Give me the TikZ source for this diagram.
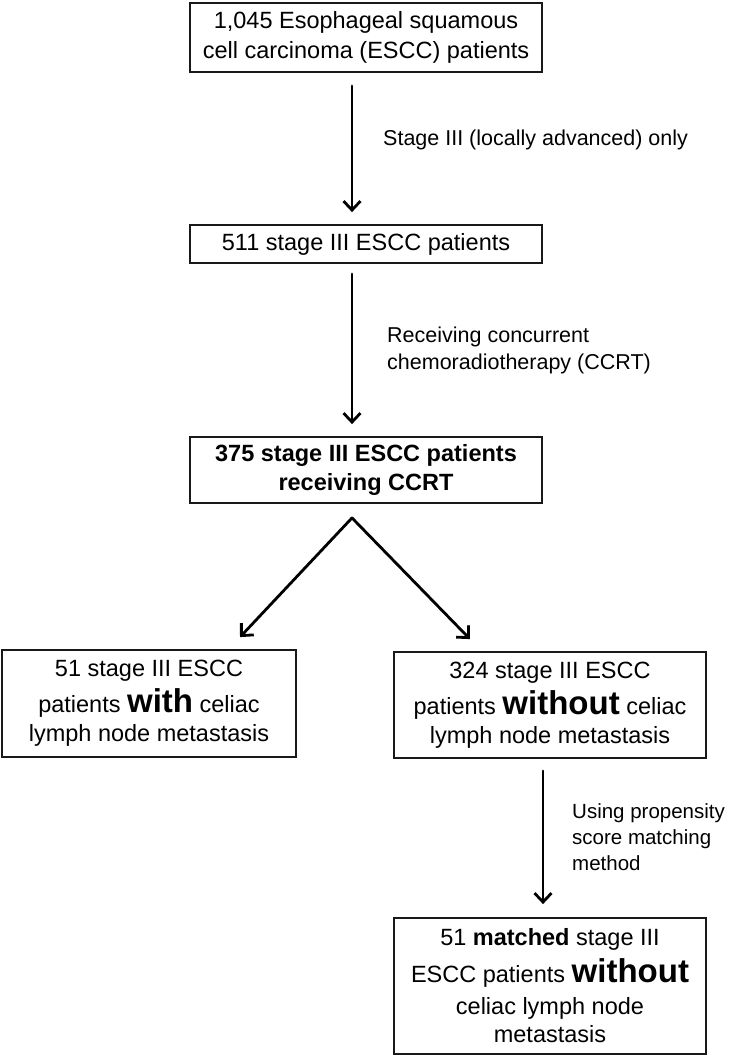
\documentclass[tikz,border=0pt]{standalone}
\usepackage{fontspec}
\setmainfont{Liberation Sans}
\usetikzlibrary{arrows.meta,calc}
\begin{document}
\begin{tikzpicture}[x=1pt,y=-1pt,
  box/.style={draw=black!90,line width=1.8pt,fill=white,align=center,inner sep=0pt,
    font=\fontsize{23.5}{29}\selectfont},
  arr/.style={line width=2.8pt,line cap=round,-{Straight Barb[length=9pt,width=17pt]}},
  lab/.style={anchor=west,align=left,inner sep=0pt}]
\useasboundingbox (0,0) rectangle (733,1056);
\newcommand{\bigb}[1]{{\fontsize{33}{33}\selectfont\bfseries #1}}
\node[box,minimum width=352pt,minimum height=69pt] (b1) at (366,37.5)
  {1,045 Esophageal squamous\\[1pt]cell carcinoma (ESCC) patients};
\node[box,minimum width=352pt,minimum height=38pt] (b2) at (366,244)
  {511 stage III ESCC patients};
\node[box,minimum width=352pt,minimum height=66pt,font=\fontsize{23.5}{29}\selectfont\bfseries] (b3) at (366,470)
  {375 stage III ESCC patients\\receiving CCRT};
\node[box,minimum width=294pt,minimum height=107pt] (b4) at (149,703.5)
  {51 stage III ESCC\\[7pt]patients \bigb{with} celiac\\[0pt]lymph node metastasis};
\node[box,minimum width=312pt,minimum height=106pt] (b5) at (550,705)
  {324 stage III ESCC\\[7pt]patients \bigb{without} celiac\\[0pt]lymph node metastasis};
\node[box,minimum width=312pt,minimum height=136pt] (b6) at (550,986)
  {51 \textbf{matched} stage III\\[8pt]ESCC patients \bigb{without}\\[3pt]celiac lymph node\\[-1pt]metastasis};
\coordinate (ax) at (352,0);
\coordinate (bx) at (543,0);
\coordinate (apex) at ($(b3.south -| ax)+(0,14)$);
\coordinate (tl) at ($(b4.north -| 240,0)+(0,-12)$);
\coordinate (tr) at ($(b5.north -| 470,0)+(0,-12)$);
\draw[arr] ($(b1.south -| ax)+(0,13)$) -- ($(b2.north -| ax)+(0,-12)$);
\draw[arr] ($(b2.south -| ax)+(0,10)$) -- ($(b3.north -| ax)+(0,-12)$);
\draw[arr] (apex) -- (tl);
\draw[arr] (apex) -- (tr);
\draw[arr] ($(b5.south -| bx)+(0,12)$) -- ($(b6.north -| bx)+(0,-13)$);
\node[lab,font=\fontsize{21.5}{26}\selectfont] (l1) at (383,140) {Stage III (locally advanced) only};
\node[lab,font=\fontsize{21.5}{27}\selectfont] (l2) at (387,350) {Receiving concurrent\\chemoradiotherapy (CCRT)};
\node[lab,font=\fontsize{20.5}{26}\selectfont] (l3) at (572,837) {Using propensity\\score matching\\method};
\end{tikzpicture}
\end{document}
